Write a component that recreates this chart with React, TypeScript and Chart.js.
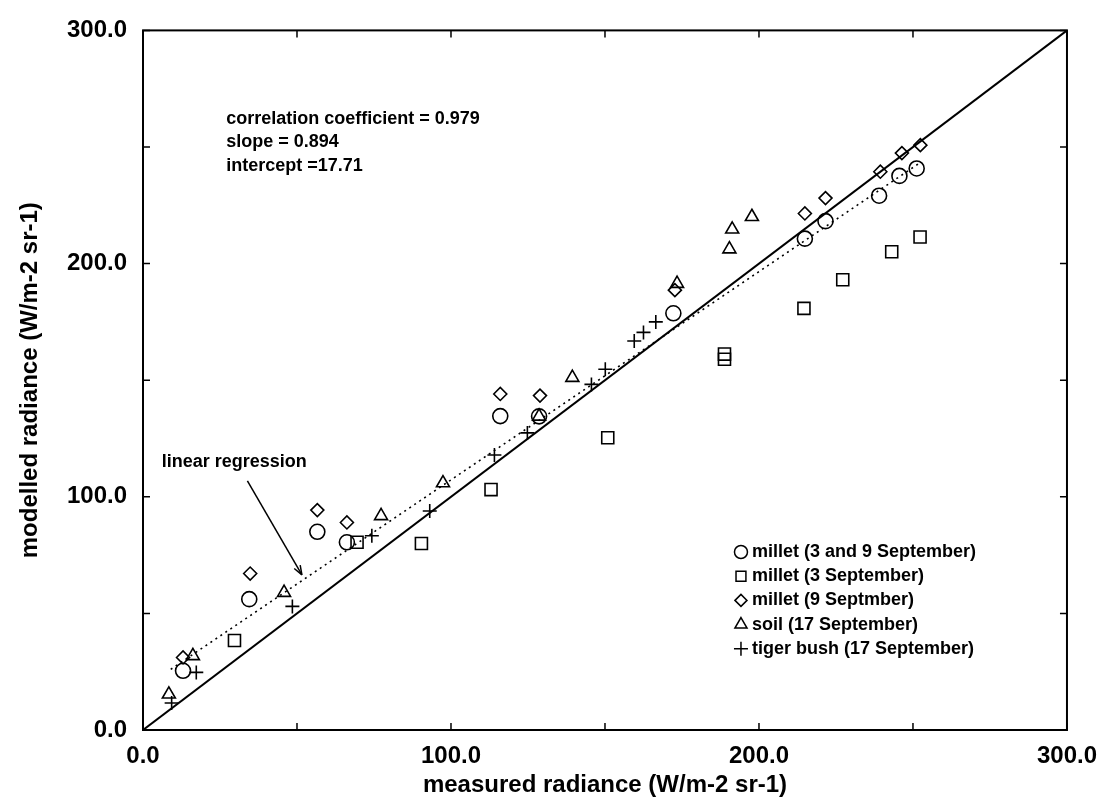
import React, { useEffect, useRef } from "react";
import { Chart, registerables } from "chart.js";
import { drawPoint } from "chart.js/helpers";

Chart.register(...registerables);

// ---------- data ----------
const seriesLabels = [
  "millet (3 and 9 September)",
  "millet (3 September)",
  "millet (9 Septmber)",
  "soil (17 September)",
  "tiger bush (17 September)",
];

const milletBothX = [13.0, 34.5, 56.6, 66.2, 116.0, 128.6, 172.2, 214.9, 221.6, 239.0, 245.6, 251.2];
const milletBothY = [25.4, 56.1, 85.0, 80.5, 134.6, 134.5, 178.7, 210.7, 218.2, 229.1, 237.6, 240.8];

const millet3X = [29.7, 69.5, 90.4, 113.0, 150.9, 188.8, 188.8, 214.6, 227.2, 243.1, 252.3];
const millet3Y = [38.4, 80.5, 80.0, 103.1, 125.3, 161.2, 159.0, 180.8, 193.1, 205.1, 211.4];

const millet9X = [13.0, 34.8, 56.6, 66.2, 116.0, 128.9, 172.7, 214.9, 221.6, 239.4, 246.4, 252.4];
const millet9Y = [31.1, 67.1, 94.3, 89.0, 144.1, 143.4, 188.6, 221.5, 228.1, 239.4, 247.4, 250.8];

const soilX = [8.4, 16.2, 45.8, 77.3, 97.4, 128.6, 139.4, 173.4, 190.4, 191.3, 197.7];
const soilY = [15.3, 31.8, 58.9, 91.8, 105.9, 134.5, 151.1, 191.4, 206.2, 214.7, 220.1];

const tigerX = [9.3, 17.3, 48.5, 74.3, 93.1, 114.1, 124.8, 145.6, 150.1, 159.5, 162.5, 166.5];
const tigerY = [11.6, 24.7, 53.0, 83.3, 93.9, 117.9, 127.4, 148.2, 154.7, 166.8, 170.5, 175.0];

const identityX = [0, 300];
const identityY = [0, 300];

const regressionX = [9, 252];
const regressionY = [26, 243];

const tickLabels = ["0.0", "100.0", "200.0", "300.0"];

const statsLines = [
  "correlation coefficient = 0.979",
  "slope = 0.894",
  "intercept =17.71",
];
const regressionNote = "linear regression";
const xTitle = "measured radiance (W/m-2 sr-1)";
const yTitle = "modelled radiance (W/m-2 sr-1)";

// ---------- styling ----------
const FONT = "'Liberation Sans', Arial, Helvetica, sans-serif";
const INK = "#000";

const pts = (xs: number[], ys: number[]) => xs.map((x, i) => ({ x, y: ys[i] }));

const markerStyles = [
  { pointStyle: "circle", radius: 7.5, legendRadius: 6.5 },
  { pointStyle: "rect", radius: 8.5, legendRadius: 7 },
  { pointStyle: "rectRot", radius: 6.5, legendRadius: 6 },
  { pointStyle: "triangle", radius: 7.5, legendRadius: 7 },
  { pointStyle: "cross", radius: 7, legendRadius: 7 },
];

const overlayPlugin = {
  id: "overlay",
  afterDraw(chart: any) {
    const { ctx, chartArea } = chart;
    const xs = chart.scales.x;
    const ys = chart.scales.y;
    const { left, right, top, bottom } = chartArea;
    ctx.save();
    // frame
    ctx.strokeStyle = INK;
    ctx.lineWidth = 2;
    ctx.strokeRect(left, top, right - left, bottom - top);
    // inward ticks on all four sides
    ctx.lineWidth = 1.5;
    const tl = 7;
    xs.ticks.forEach((t: any) => {
      const px = xs.getPixelForValue(t.value);
      ctx.beginPath();
      ctx.moveTo(px, bottom);
      ctx.lineTo(px, bottom - tl);
      ctx.moveTo(px, top);
      ctx.lineTo(px, top + tl);
      ctx.stroke();
    });
    ys.ticks.forEach((t: any) => {
      const py = ys.getPixelForValue(t.value);
      ctx.beginPath();
      ctx.moveTo(left, py);
      ctx.lineTo(left + tl, py);
      ctx.moveTo(right, py);
      ctx.lineTo(right - tl, py);
      ctx.stroke();
    });

    // statistics text
    ctx.fillStyle = INK;
    ctx.font = `bold 18px ${FONT}`;
    ctx.textAlign = "left";
    ctx.textBaseline = "middle";
    const statsYs = [262, 252.2, 242];
    statsLines.forEach((s, i) => {
      ctx.fillText(s, xs.getPixelForValue(27), ys.getPixelForValue(statsYs[i]));
    });

    // linear regression note and arrow
    ctx.fillText(regressionNote, xs.getPixelForValue(6.1), ys.getPixelForValue(114.8));
    const ax0 = xs.getPixelForValue(33.9), ay0 = ys.getPixelForValue(106.8);
    const ax1 = xs.getPixelForValue(51.6), ay1 = ys.getPixelForValue(66.5);
    ctx.lineWidth = 1.5;
    ctx.beginPath();
    ctx.moveTo(ax0, ay0);
    ctx.lineTo(ax1, ay1);
    ctx.stroke();
    const ang = Math.atan2(ay1 - ay0, ax1 - ax0);
    const hl = 10;
    ctx.beginPath();
    ctx.moveTo(ax1, ay1);
    ctx.lineTo(ax1 - hl * Math.cos(ang - 0.35), ay1 - hl * Math.sin(ang - 0.35));
    ctx.moveTo(ax1, ay1);
    ctx.lineTo(ax1 - hl * Math.cos(ang + 0.35), ay1 - hl * Math.sin(ang + 0.35));
    ctx.stroke();

    // legend (inside plot, bottom right)
    const symX = right - 326;
    const rowY0 = bottom - 178;
    const rowStep = 24.2;
    chart.data.datasets.forEach((ds: any) => {
      if (ds.legendIndex === undefined) return;
      const k = ds.legendIndex;
      const y = rowY0 + k * rowStep;
      const m = markerStyles[k];
      ctx.strokeStyle = INK;
      ctx.fillStyle = "rgba(0,0,0,0)";
      ctx.lineWidth = 1.5;
      drawPoint(ctx, { pointStyle: m.pointStyle, radius: m.legendRadius, rotation: 0, borderWidth: 1.5 } as any, symX, y);
      ctx.fillStyle = INK;
      ctx.font = `bold 18px ${FONT}`;
      ctx.textAlign = "left";
      ctx.textBaseline = "middle";
      ctx.fillText(ds.label, symX + 11, y);
    });
    ctx.restore();
  },
};

export default function App() {
  const ref = useRef<HTMLCanvasElement | null>(null);

  useEffect(() => {
    if (!ref.current) return;
    const seriesPts = [
      pts(milletBothX, milletBothY),
      pts(millet3X, millet3Y),
      pts(millet9X, millet9Y),
      pts(soilX, soilY),
      pts(tigerX, tigerY),
    ];
    const scatterSets = seriesPts.map((data, i) => ({
      type: "scatter" as const,
      label: seriesLabels[i],
      legendIndex: i,
      data,
      pointStyle: markerStyles[i].pointStyle,
      pointRadius: markerStyles[i].radius,
      pointBorderWidth: 1.6,
      pointBorderColor: INK,
      pointBackgroundColor: "rgba(0,0,0,0)",
      showLine: false,
    }));

    const chart = new Chart(ref.current, {
      type: "scatter",
      data: {
        datasets: [
          {
            type: "line",
            label: "1:1",
            data: pts(identityX, identityY),
            borderColor: INK,
            borderWidth: 2,
            pointRadius: 0,
            fill: false,
          } as any,
          {
            type: "line",
            label: "regression",
            data: pts(regressionX, regressionY),
            borderColor: INK,
            borderWidth: 1.6,
            borderDash: [2, 4],
            pointRadius: 0,
            fill: false,
          } as any,
          ...scatterSets,
        ],
      },
      options: {
        responsive: false,
        animation: false,
        layout: { padding: { top: 22, right: 36, left: 0, bottom: 0 } },
        plugins: { legend: { display: false }, tooltip: { enabled: false } },
        scales: {
          x: {
            type: "linear",
            min: 0,
            max: 300,
            grid: { display: false, drawTicks: false },
            border: { display: false },
            ticks: {
              stepSize: 50,
              padding: 12,
              color: INK,
              maxRotation: 0,
              autoSkip: false,
              font: { family: FONT, size: 24, weight: "bold" },
              callback: (v: any, i: number) => (i % 2 === 0 ? tickLabels[i / 2] : ""),
            },
            title: {
              display: true,
              text: xTitle,
              color: INK,
              font: { family: FONT, size: 24, weight: "bold" },
              padding: { top: 4, bottom: 3 },
            },
            afterFit: (s: any) => {
              s.height = 73;
            },
          },
          y: {
            type: "linear",
            min: 0,
            max: 300,
            grid: { display: false, drawTicks: false },
            border: { display: false },
            ticks: {
              stepSize: 50,
              padding: 16,
              color: INK,
              autoSkip: false,
              font: { family: FONT, size: 24, weight: "bold" },
              callback: (v: any, i: number) => (i % 2 === 0 ? tickLabels[i / 2] : ""),
            },
            title: {
              display: true,
              text: yTitle,
              color: INK,
              font: { family: FONT, size: 24, weight: "bold" },
              padding: { top: 16, bottom: 4 },
            },
            afterFit: (s: any) => {
              s.width = 143;
            },
          },
        },
      } as any,
      plugins: [overlayPlugin],
    });
    return () => chart.destroy();
  }, []);

  return (
    <div style={{ position: "absolute", left: 0, top: 0, width: 1109, height: 803, background: "#fff" }}>
      <canvas ref={ref} width={1109} height={803} />
    </div>
  );
}
